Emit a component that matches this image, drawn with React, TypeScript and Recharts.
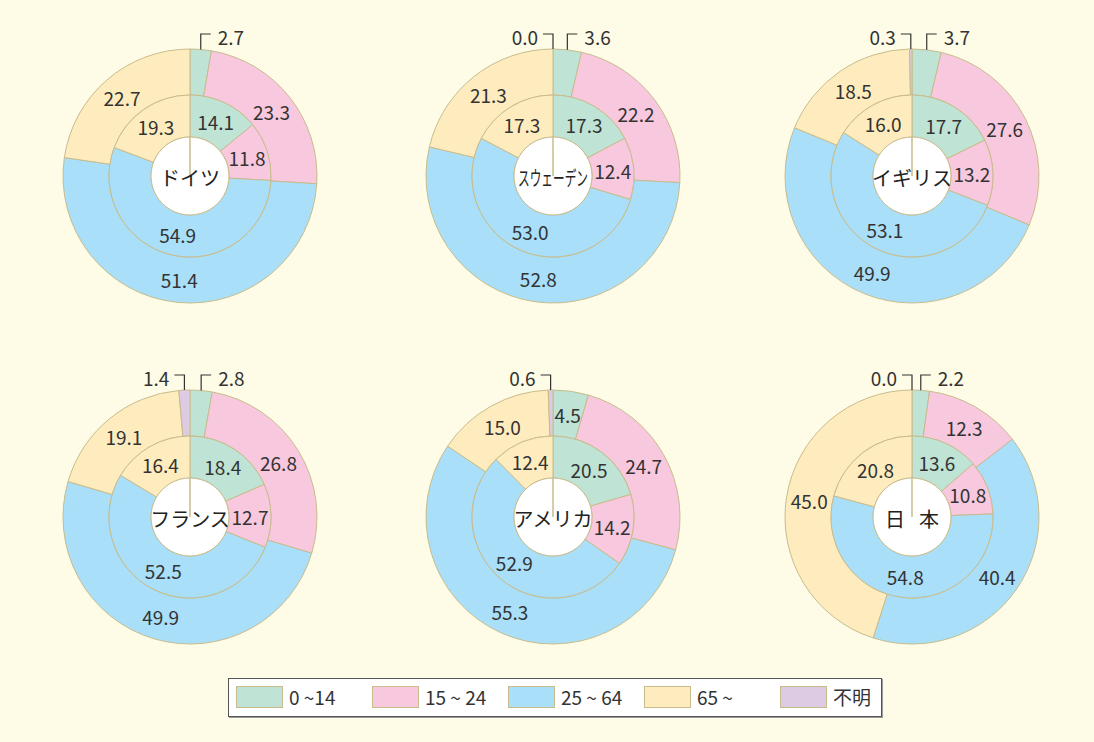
import { PieChart, Pie, Cell } from 'recharts';

// age groups, clockwise from 12 o'clock
const AGE_GROUPS = ['0 ~14', '15 ~ 24', '25 ~ 64', '65 ~', '不明'];
const AGE_COLORS = ['#bfe3d4', '#f8c8de', '#a9dff9', '#feecbe', '#dccbe2'];

const COUNTRIES = ['ドイツ', 'スウェーデン', 'イギリス', 'フランス', 'アメリカ', '日 本'];

// inner ring
const GERMANY_INNER = [14.1, 11.8, 54.9, 19.3];
const SWEDEN_INNER = [17.3, 12.4, 53.0, 17.3];
const UK_INNER = [17.7, 13.2, 53.1, 16.0];
const FRANCE_INNER = [18.4, 12.7, 52.5, 16.4];
const USA_INNER = [20.5, 14.2, 52.9, 12.4];
const JAPAN_INNER = [13.6, 10.8, 54.8, 20.8];

// outer ring
const GERMANY_OUTER = [2.7, 23.3, 51.4, 22.7];
const SWEDEN_OUTER = [3.6, 22.2, 52.8, 21.3, 0.0];
const UK_OUTER = [3.7, 27.6, 49.9, 18.5, 0.3];
const FRANCE_OUTER = [2.8, 26.8, 49.9, 19.1, 1.4];
const USA_OUTER = [4.5, 24.7, 55.3, 15.0, 0.6];
const JAPAN_OUTER = [2.2, 12.3, 40.4, 45.0, 0.0];

const INNER = [GERMANY_INNER, SWEDEN_INNER, UK_INNER, FRANCE_INNER, USA_INNER, JAPAN_INNER];
const OUTER = [GERMANY_OUTER, SWEDEN_OUTER, UK_OUTER, FRANCE_OUTER, USA_OUTER, JAPAN_OUTER];

// layout
const W = 1094;
const H = 742;
const COL_X = [190, 553, 912];
const ROW_Y = [176, 517];
const R_HOLE = 39;
const R_MID = 81;
const R_OUT = 127;
const EDGE = '#c8bc8c';
const TEXT = '#333333';
const FONT = '"Noto Sans CJK JP", "Noto Sans", sans-serif';
const RAD = Math.PI / 180;

const toData = (vals: number[]) => vals.map((v, i) => ({ name: AGE_GROUPS[i], value: v }));

function innerLabel(p: any) {
  const r = (p.innerRadius + p.outerRadius) / 2;
  const a = -p.midAngle * RAD;
  return (
    <text x={p.cx + r * Math.cos(a)} y={p.cy + r * Math.sin(a)} textAnchor="middle"
      dominantBaseline="central" fill={TEXT} fontSize={19} fontFamily={FONT}>
      {p.value.toFixed(1)}
    </text>
  );
}

function makeOuterLabel(count: number) {
  return (p: any) => {
    const a = -p.midAngle * RAD;
    if (p.value < 4) {
      // small slices get a bracket leader above the ring
      const sx = p.cx + p.outerRadius * Math.cos(a);
      const sy = p.cy + p.outerRadius * Math.sin(a);
      const ty = p.cy - p.outerRadius - 15;
      const left = p.index === count - 1 && p.index !== 0;
      const hx = left ? sx - 10 : sx + 10;
      return (
        <g>
          <polyline points={`${sx},${sy} ${sx},${ty} ${hx},${ty}`} fill="none" stroke={TEXT} strokeWidth={1.2} />
          <text x={left ? hx - 5 : hx + 7} y={ty + 2} textAnchor={left ? 'end' : 'start'}
            dominantBaseline="central" fill={TEXT} fontSize={19} fontFamily={FONT}>
            {p.value.toFixed(1)}
          </text>
        </g>
      );
    }
    const r = (p.innerRadius + p.outerRadius) / 2;
    return (
      <text x={p.cx + r * Math.cos(a)} y={p.cy + r * Math.sin(a)} textAnchor="middle"
        dominantBaseline="central" fill={TEXT} fontSize={19} fontFamily={FONT}>
        {p.value.toFixed(1)}
      </text>
    );
  };
}

function makeCenterLabel(name: string) {
  // long name is squeezed, the spaced one is spread to fill the hole
  const fit = name.length > 4 ? 70 : name.includes(' ') ? 54 : 0;
  return (p: any) => (
    <text x={p.cx} y={p.cy + 1} textAnchor="middle" dominantBaseline="central" fill="#222"
      fontSize={20} fontFamily={FONT}
      {...(fit ? { textLength: fit, lengthAdjust: name.length > 4 ? 'spacingAndGlyphs' : 'spacing' } : {})}>
      {name}
    </text>
  );
}

function Legend() {
  return (
    <div style={{
      position: 'absolute', left: 228, top: 678, width: 652, height: 37,
      border: '1px solid #555', background: '#fff', boxShadow: '1px 1px 0 #999',
      fontFamily: FONT, fontSize: 19, color: TEXT,
    }}>
      {AGE_GROUPS.map((g, i) => (
        <div key={g} style={{ position: 'absolute', left: 7 + i * 136, top: 7, display: 'flex', alignItems: 'center' }}>
          <div style={{ width: 45, height: 20, background: AGE_COLORS[i], border: `1px solid ${EDGE}` }} />
          <span style={{ marginLeft: 6, lineHeight: '22px', whiteSpace: 'pre' }}>{g}</span>
        </div>
      ))}
    </div>
  );
}

export default function App() {
  return (
    <div style={{ position: 'absolute', left: 0, top: 0, width: W, height: H, background: '#fefce7' }}>
      <PieChart width={W} height={H} margin={{ top: 0, right: 0, bottom: 0, left: 0 }}>
        {COUNTRIES.map((name, k) => {
          const cx = COL_X[k % 3];
          const cy = ROW_Y[Math.floor(k / 3)];
          const outer = OUTER[k];
          return [
            <Pie key={`o${k}`} data={toData(outer)} dataKey="value" cx={cx} cy={cy}
              innerRadius={R_MID} outerRadius={R_OUT} startAngle={90} endAngle={-270}
              stroke={EDGE} strokeWidth={1} label={makeOuterLabel(outer.length)} labelLine={false}
              isAnimationActive={false}>
              {outer.map((_, i) => <Cell key={i} fill={AGE_COLORS[i]} />)}
            </Pie>,
            <Pie key={`i${k}`} data={toData(INNER[k])} dataKey="value" cx={cx} cy={cy}
              innerRadius={R_HOLE} outerRadius={R_MID} startAngle={90} endAngle={-270}
              stroke={EDGE} strokeWidth={1} label={innerLabel} labelLine={false}
              isAnimationActive={false}>
              {INNER[k].map((_, i) => <Cell key={i} fill={AGE_COLORS[i]} />)}
            </Pie>,
            <Pie key={`c${k}`} data={[{ name, value: 1 }]} dataKey="value" cx={cx} cy={cy}
              innerRadius={0} outerRadius={R_HOLE} startAngle={90} endAngle={-270}
              fill="#ffffff" stroke={EDGE} strokeWidth={1} label={makeCenterLabel(name)} labelLine={false}
              isAnimationActive={false} />,
          ];
        })}
      </PieChart>
      <Legend />
    </div>
  );
}
